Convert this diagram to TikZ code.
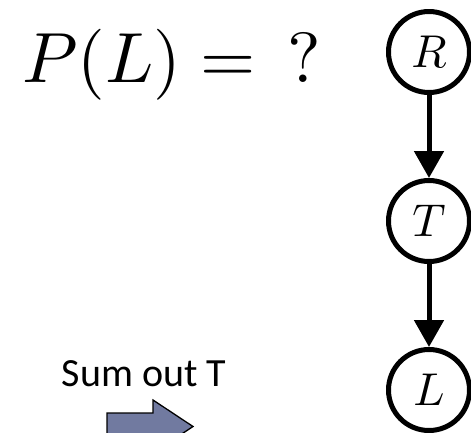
\documentclass[tikz,border=0pt]{standalone}
\usepackage{graphicx}
\usepackage{fontspec}
\newfontfamily\calibri{Carlito}
\usetikzlibrary{arrows.meta}
\definecolor{arrowfill}{RGB}{113,122,160}
\newcommand{\bigmath}[2]{\scalebox{#1}{$#2$}}
\begin{document}
\begin{tikzpicture}[x=1pt,y=-1pt,
  var/.style={circle, draw, fill=white, line width=5pt, minimum size=81pt, inner sep=0pt},
  edge/.style={line width=5pt, -{Triangle[length=27pt,width=29pt]}},
  blockarrow/.style={fill=arrowfill, draw=black, line width=1.3pt, line join=miter}]
\useasboundingbox (0,0) rectangle (471,432);
\node[anchor=base west, inner sep=0pt] (query) at (22,82)
  {\bigmath{7.1}{P(L) = \mskip 8mu ?}};
\node[var] (R) at (429,52) {\bigmath{4.6}{R}};
\node[var] (T) at (429,221) {\bigmath{4.6}{T}};
\node[var] (L) at (429,390) {\bigmath{4.6}{L}};
\draw[edge] (R) -- (T);
\draw[edge] (T) -- (L);
\node[anchor=base, inner sep=0pt, font=\calibri\fontsize{40}{44}\selectfont] (sum) at (144,386) {Sum out T};
\draw[blockarrow] (107,413) -- (153,413) -- (153,400) -- (193,426.5) -- (153,453) -- (153,440) -- (107,440) -- cycle;
\end{tikzpicture}
\end{document}
